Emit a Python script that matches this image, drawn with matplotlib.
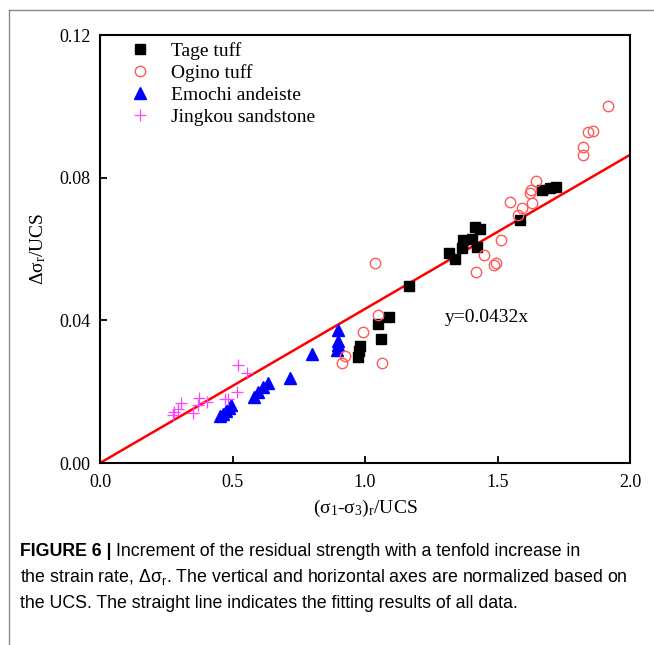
import matplotlib
matplotlib.use("Agg")
import matplotlib.pyplot as plt
import numpy as np
from matplotlib.lines import Line2D

plt.rcParams["font.family"] = ["Liberation Serif", "DejaVu Serif"]
plt.rcParams["mathtext.fontset"] = "custom"
plt.rcParams["mathtext.rm"] = "Liberation Serif"
plt.rcParams["mathtext.it"] = "Liberation Serif"
plt.rcParams["mathtext.sf"] = "Liberation Sans"

# data
tage_x = [0.974, 0.977, 0.981, 1.060, 1.049, 1.091, 1.166, 1.317, 1.340, 1.366,
          1.370, 1.404, 1.423, 1.415, 1.434, 1.585, 1.668, 1.698, 1.721]
tage_y = [0.0297, 0.0314, 0.0328, 0.0348, 0.0390, 0.0409, 0.0496, 0.0589, 0.0572, 0.0603,
          0.0625, 0.0628, 0.0606, 0.0662, 0.0656, 0.0681, 0.0765, 0.0771, 0.0774]

ogino_x = [1.038, 1.419, 1.449, 1.487, 1.494, 1.513, 1.547, 1.577, 1.592, 1.630,
           1.623, 1.626, 1.645, 1.823, 1.823, 1.842, 1.860, 1.917,
           1.049, 0.992, 0.925, 0.913, 1.064]
ogino_y = [0.0561, 0.0535, 0.0583, 0.0555, 0.0561, 0.0625, 0.0732, 0.0695, 0.0715, 0.0729,
           0.0757, 0.0765, 0.0791, 0.0886, 0.0863, 0.0928, 0.0931, 0.1001,
           0.0415, 0.0367, 0.0300, 0.0280, 0.0280]

emochi_x = [0.453, 0.464, 0.475, 0.487, 0.494, 0.581, 0.596, 0.615, 0.634, 0.717,
            0.800, 0.894, 0.898, 0.898, 0.898]
emochi_y = [0.0132, 0.0137, 0.0146, 0.0154, 0.0163, 0.0185, 0.0199, 0.0213, 0.0224, 0.0238,
            0.0306, 0.0317, 0.0331, 0.0342, 0.0373]

jing_x = [0.521, 0.555, 0.517, 0.472, 0.483, 0.404, 0.374, 0.370, 0.351, 0.306,
          0.294, 0.279, 0.275]
jing_y = [0.0275, 0.0252, 0.0199, 0.0179, 0.0179, 0.0171, 0.0182, 0.0163, 0.0140, 0.0168,
          0.0151, 0.0143, 0.0135]

names = ["Tage tuff", "Ogino tuff", "Emochi andeiste", "Jingkou sandstone"]
slope = 0.0432
fit_x = np.array([0.0, 2.0])

caption = [
    "Increment of the residual strength with a tenfold increase in",
    r"the strain rate, $\mathsf{\Delta\sigma_r}$. The vertical and horizontal axes are normalized based on",
    "the UCS. The straight line indicates the fitting results of all data.",
]

fig = plt.figure(figsize=(6.54, 6.45), dpi=100)
ax = fig.add_axes([100 / 654, 1 - 463 / 645, 530 / 654, 428 / 645])

ax.plot(fit_x, slope * fit_x, color="#ff0000", lw=1.8, zorder=2)
h1, = ax.plot(tage_x, tage_y, ls="none", marker="s", ms=6.5, color="black", zorder=3)
h2, = ax.plot(ogino_x, ogino_y, ls="none", marker="o", ms=7.5, mfc="none",
              mec="#ff5a5a", mew=1.0, zorder=4)
h3, = ax.plot(emochi_x, emochi_y, ls="none", marker="^", ms=8, color="#0000ff", zorder=3)
h4, = ax.plot(jing_x, jing_y, ls="none", marker="+", ms=9, mew=0.9, color="#ff44ff", zorder=3)

ax.set_xlim(0, 2.0)
ax.set_ylim(0, 0.12)
ax.set_xticks([0.0, 0.5, 1.0, 1.5, 2.0])
ax.set_yticks([0.0, 0.04, 0.08, 0.12])
ax.xaxis.set_major_formatter(matplotlib.ticker.FormatStrFormatter("%.1f"))
ax.yaxis.set_major_formatter(matplotlib.ticker.FormatStrFormatter("%.2f"))
ax.tick_params(direction="in", length=5, width=1.3, labelsize=13)
ax.tick_params(axis="x", pad=8)
ax.tick_params(axis="y", pad=7)
for s in ax.spines.values():
    s.set_linewidth(1.5)

ax.set_xlabel(r"($\mathrm{\sigma}_1$-$\mathrm{\sigma}_3$)$_\mathrm{r}$/UCS", fontsize=14, labelpad=5)
ax.set_ylabel(r"$\Delta\mathrm{\sigma}_\mathrm{r}$/UCS", fontsize=14, labelpad=8)

ax.text(1.30, 0.0407, "y=0.0432x", fontsize=14, ha="left", va="center")

ax.legend([h1, h2, h3, h4], names,
          loc="upper left", bbox_to_anchor=(0.027, 1.015), frameon=False,
          fontsize=14, handlelength=1.2, handletextpad=1.0, labelspacing=0.22,
          borderaxespad=0.3)

# outer frame of the figure image
fig.add_artist(Line2D([9 / 654, 9 / 654], [0, 1 - 10 / 645], transform=fig.transFigure,
                      color="#888888", lw=1.0))
fig.add_artist(Line2D([9 / 654, 1], [1 - 10 / 645, 1 - 10 / 645], transform=fig.transFigure,
                      color="#888888", lw=1.0))

# caption, sized so that the long line spans the same width as in the figure
cap_font = ["Liberation Sans", "DejaVu Sans"]
r = fig.canvas.get_renderer()
probe = fig.text(0, 0, caption[1], fontsize=13, family=cap_font)
w = probe.get_window_extent(r).width
probe.remove()
cap_size = 13 * 608 / w

x0 = 20 / 654
head = fig.text(x0, 1 - 551 / 645, "FIGURE 6 |", fontsize=cap_size, fontweight="bold",
                family=cap_font, va="center", ha="left")
hw = head.get_window_extent(r).width
fig.text(x0 + (hw + 4) / 654, 1 - 551 / 645, caption[0], fontsize=cap_size,
         family=cap_font, va="center", ha="left")
fig.text(x0, 1 - 577 / 645, caption[1], fontsize=cap_size, family=cap_font,
         va="center", ha="left")
fig.text(x0, 1 - 603 / 645, caption[2], fontsize=cap_size, family=cap_font,
         va="center", ha="left")

fig.savefig("out.png", dpi=100)
